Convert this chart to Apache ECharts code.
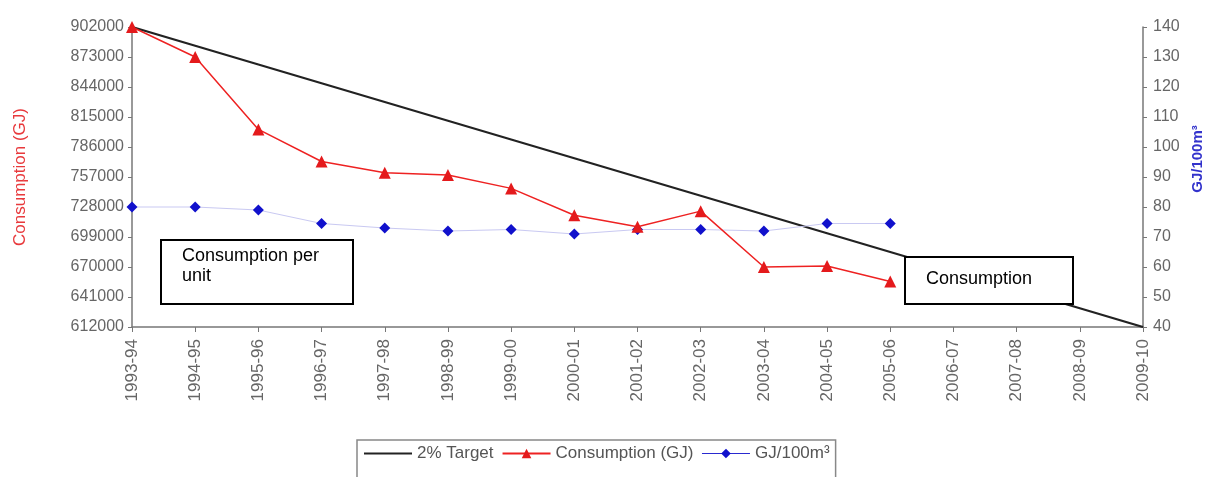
<!DOCTYPE html>
<html>
<head>
<meta charset="utf-8">
<script src="https://cdn.jsdelivr.net/npm/echarts@6/dist/echarts.min.js"></script>
<style>
html,body{margin:0;padding:0;background:#fff;}
#chart{width:1222px;height:477px;}
</style>
</head>
<body>
<div id="chart"></div>
<script>
var categories = ['1993-94','1994-95','1995-96','1996-97','1997-98','1998-99','1999-00','2000-01','2001-02','2002-03','2003-04','2004-05','2005-06','2006-07','2007-08','2008-09','2009-10'];
var targetValues = [902000, 883875, 865750, 847625, 829500, 811375, 793250, 775125, 757000, 738875, 720750, 702625, 684500, 666375, 648250, 630125, 612000];
var consumptionValues = [902000, 873000, 803000, 772000, 761000, 759000, 746000, 720000, 709000, 724000, 670000, 671000, 656000, null, null, null, null];
var perUnitValues = [80, 80, 79, 74.5, 73, 72, 72.5, 71, 72.5, 72.5, 72, 74.5, 74.5, null, null, null, null];
var leftTicks = {min: 612000, max: 902000, interval: 29000};
var rightTicks = {min: 40, max: 140, interval: 10};

var FONT = '"Liberation Sans", Arial, sans-serif';
var chart = echarts.init(document.getElementById('chart'), null, {renderer: 'canvas'});
chart.setOption({
  animation: false,
  backgroundColor: '#ffffff',
  textStyle: {fontFamily: FONT},
  grid: {left: 132, right: 79, top: 27, bottom: 150, containLabel: false},
  legend: {
    left: 357, top: 440,
    padding: [5, 6, 30, 6],
    borderColor: '#888', borderWidth: 1.5,
    itemWidth: 48, itemHeight: 12, itemGap: 8,
    textStyle: {fontFamily: FONT, fontSize: 17, color: '#555'},
    data: [
      {name: '2% Target', itemStyle: {opacity: 0}},
      {name: 'Consumption (GJ)'},
      {name: 'GJ/100m³', lineStyle: {color: '#2a2ad0', width: 1}}
    ]
  },
  xAxis: {
    type: 'category',
    data: categories,
    boundaryGap: false,
    axisLine: {lineStyle: {color: '#777', width: 1.5}},
    axisTick: {show: true, length: 5, lineStyle: {color: '#777'}},
    axisLabel: {rotate: 90, margin: 12, fontSize: 17, color: '#666', fontFamily: FONT},
    splitLine: {show: false}
  },
  yAxis: [{
    type: 'value',
    min: leftTicks.min, max: leftTicks.max, interval: leftTicks.interval,
    name: 'Consumption (GJ)',
    nameLocation: 'middle', nameGap: 103,
    nameTextStyle: {color: '#e8393c', fontSize: 17, fontFamily: FONT},
    axisLine: {show: true, lineStyle: {color: '#777', width: 1.5}},
    axisTick: {show: true, length: 4, lineStyle: {color: '#777'}},
    axisLabel: {fontSize: 16, color: '#666', margin: 8, fontFamily: FONT, formatter: function (v) { return String(v); }},
    splitLine: {show: false}
  }, {
    type: 'value',
    position: 'right',
    min: rightTicks.min, max: rightTicks.max, interval: rightTicks.interval,
    name: 'GJ/100m³',
    nameLocation: 'middle', nameGap: 47, nameRotate: 90,
    nameTextStyle: {color: '#3333cc', fontSize: 15, fontFamily: FONT, fontWeight: 'bold', padding: [0, 0, 0, 36]},
    axisLine: {show: true, lineStyle: {color: '#777', width: 1.5}},
    axisTick: {show: true, length: 4, lineStyle: {color: '#777'}},
    axisLabel: {fontSize: 16, color: '#666', margin: 10, fontFamily: FONT},
    splitLine: {show: false}
  }],
  series: [{
    name: '2% Target',
    type: 'line',
    yAxisIndex: 0,
    data: targetValues,
    symbol: 'none',
    lineStyle: {color: '#222', width: 2.2},
    itemStyle: {color: '#222'},
    z: 2
  }, {
    name: 'Consumption (GJ)',
    type: 'line',
    yAxisIndex: 0,
    data: consumptionValues,
    symbol: 'triangle', symbolSize: 12,
    lineStyle: {color: '#ee2222', width: 1.5},
    itemStyle: {color: '#e41a1c'},
    z: 4
  }, {
    name: 'GJ/100m³',
    type: 'line',
    yAxisIndex: 1,
    data: perUnitValues,
    symbol: 'diamond', symbolSize: 11,
    lineStyle: {color: '#c9c9f2', width: 1},
    itemStyle: {color: '#1111cc'},
    z: 3
  }],
  graphic: [{
    type: 'rect', z: 10,
    shape: {x: 161, y: 240, width: 192, height: 64},
    style: {fill: '#fff', stroke: '#000', lineWidth: 2}
  }, {
    type: 'text', z: 11,
    x: 182, y: 246,
    style: {text: 'Consumption per\nunit', fill: '#000', font: '18px ' + FONT, lineHeight: 20}
  }, {
    type: 'rect', z: 10,
    shape: {x: 905, y: 257, width: 168, height: 47},
    style: {fill: '#fff', stroke: '#000', lineWidth: 2}
  }, {
    type: 'text', z: 11,
    x: 926, y: 270,
    style: {text: 'Consumption', fill: '#000', font: '18px ' + FONT}
  }]
});
</script>
</body>
</html>
